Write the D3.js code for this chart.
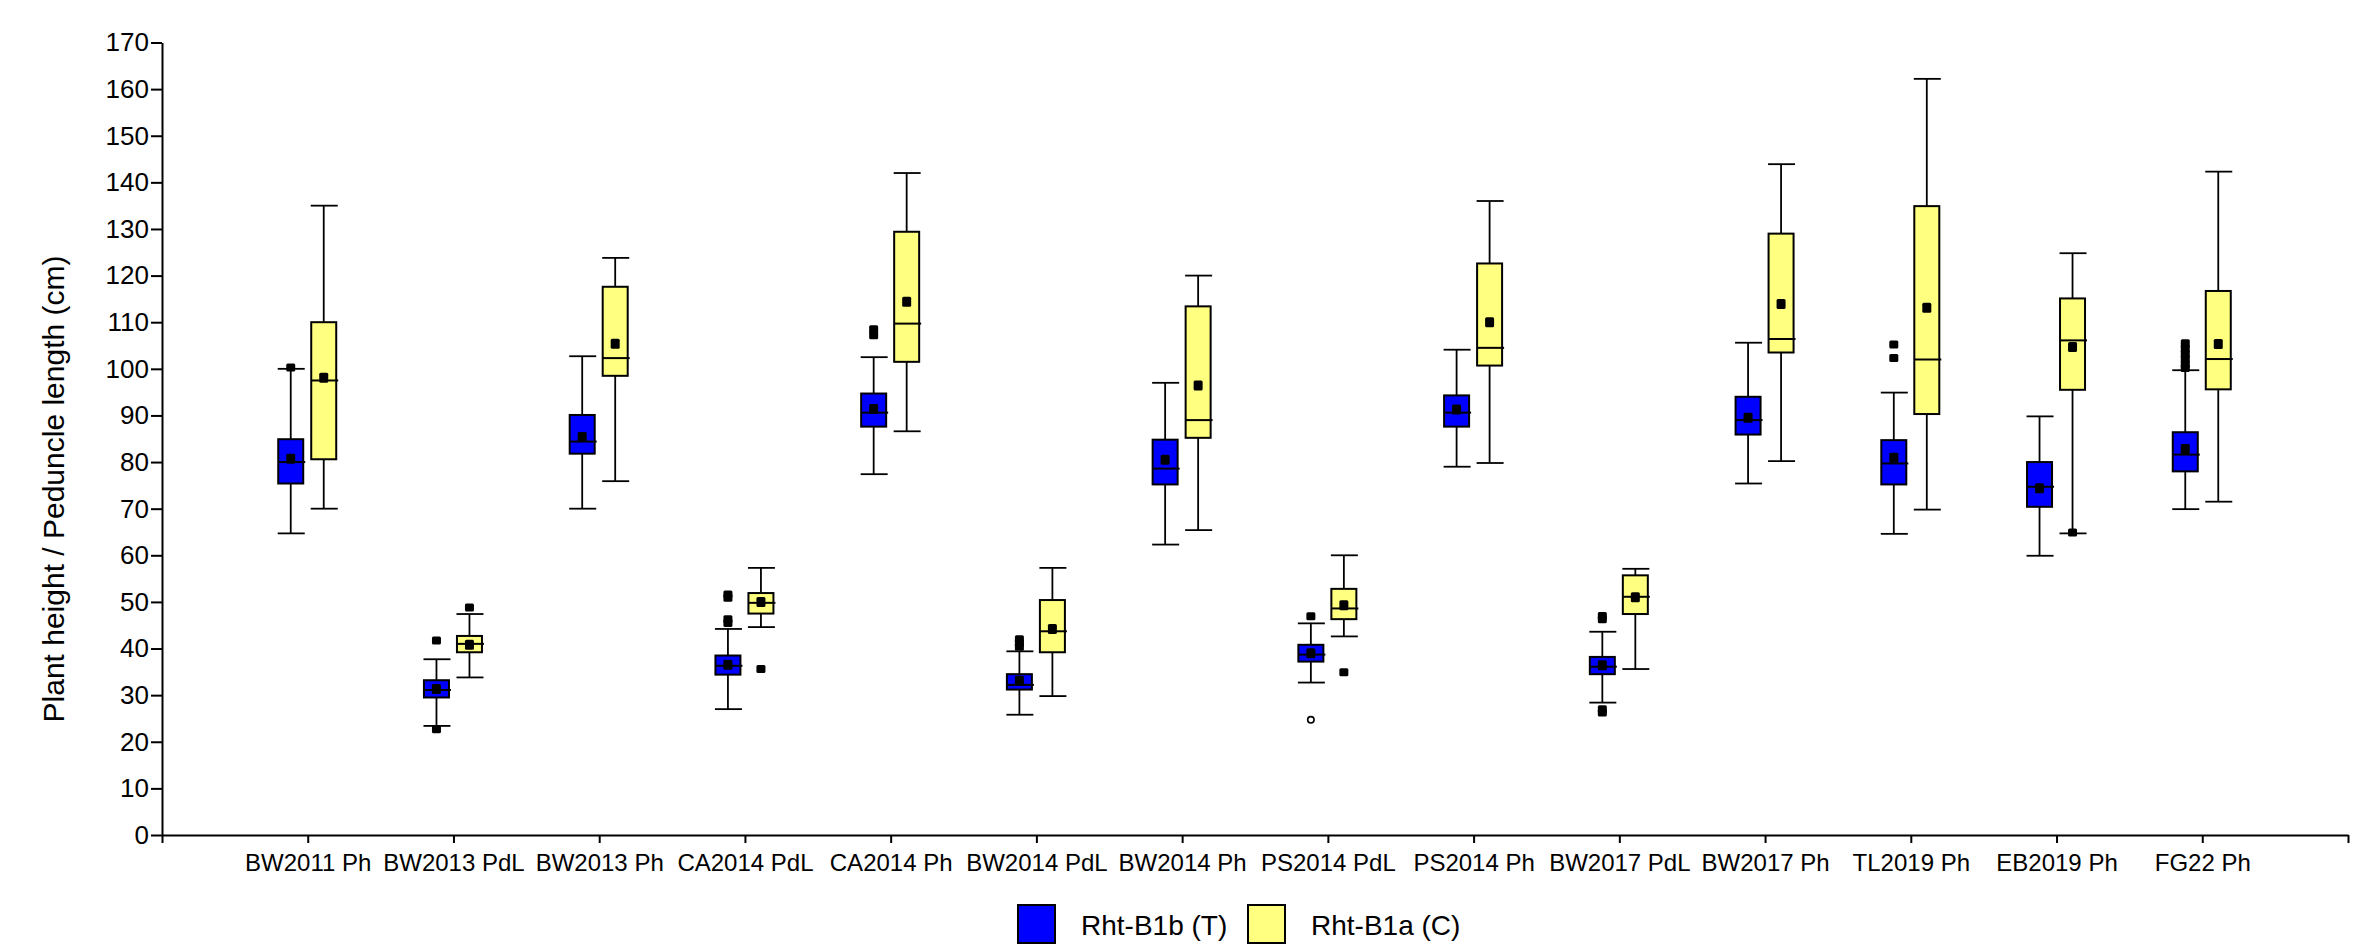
<!DOCTYPE html>
<html>
<head>
<meta charset="utf-8">
<script src="https://cdn.jsdelivr.net/npm/d3@7"></script>
<style>
    html, body { margin: 0; padding: 0; background: #ffffff; }
    svg { display: block; font-family: "Liberation Sans", Arial, sans-serif; }
</style>
</head>
<body>
<div id="chart"></div>
<script>
'use strict';

// categories on the x axis
const categories = ["BW2011 Ph", "BW2013 PdL", "BW2013 Ph", "CA2014 PdL", "CA2014 Ph", "BW2014 PdL", "BW2014 Ph",
    "PS2014 PdL", "PS2014 Ph", "BW2017 PdL", "BW2017 Ph", "TL2019 Ph", "EB2019 Ph", "FG22 Ph"];

// Rht-B1b (T)
const tLow  = [64.7, 23.4, 70.0, 27.0, 77.4, 25.8, 62.3, 32.7, 79.0, 28.4, 75.4, 64.6, 59.9, 69.9];
const tQ1   = [75.4, 29.5, 81.8, 34.4, 87.6, 31.2, 75.2, 37.2, 87.6, 34.5, 85.9, 75.2, 70.4, 78.0];
const tMed  = [80.0, 31.1, 84.4, 36.3, 90.6, 32.2, 78.6, 38.7, 90.6, 36.1, 89.0, 79.7, 74.7, 81.6];
const tQ3   = [84.9, 33.2, 90.1, 38.5, 94.7, 34.5, 84.8, 40.8, 94.3, 38.2, 94.0, 84.7, 80.0, 86.4];
const tHigh = [100.0, 37.7, 102.7, 44.2, 102.5, 39.4, 97.0, 45.4, 104.1, 43.6, 105.6, 94.9, 89.8, 99.7];
const tMean = [80.7, 31.3, 85.4, 36.5, 91.4, 33.1, 80.5, 39.0, 91.3, 36.4, 89.5, 80.9, 74.4, 82.8];
const tOutliers = [[100.3], [41.7, 22.7], [], [51.6, 50.9, 46.3, 45.5], [108.5, 107.2], [42.0, 41.2, 40.4], [],
    [46.9], [], [47.0, 46.3, 27.0, 26.3], [], [105.2, 102.3], [], [105.5, 104.3, 103.2, 102.1, 101.0, 100.2]];
const tOpen = [[], [], [], [], [], [], [], [24.7], [], [], [], [], [], []];

// Rht-B1a (C)
const cLow  = [70.0, 33.8, 75.9, 44.6, 86.6, 29.8, 65.4, 42.6, 79.8, 35.6, 80.2, 69.8, 64.7, 71.5];
const cQ1   = [80.6, 39.2, 98.5, 47.5, 101.5, 39.2, 85.2, 46.3, 100.7, 47.4, 103.5, 90.3, 95.5, 95.6];
const cMed  = [97.5, 41.0, 102.3, 49.8, 109.7, 43.7, 89.0, 48.6, 104.5, 51.1, 106.4, 102.0, 106.1, 102.1];
const cQ3   = [110.0, 42.7, 117.6, 51.9, 129.4, 50.4, 113.4, 52.8, 122.6, 55.7, 129.0, 134.9, 115.1, 116.7];
const cHigh = [135.0, 47.4, 123.8, 57.3, 142.0, 57.3, 120.0, 60.0, 136.0, 57.1, 143.9, 162.2, 124.8, 142.3];
const cMean = [98.1, 40.8, 105.4, 50.0, 114.4, 44.2, 96.4, 49.3, 110.0, 51.0, 113.9, 113.1, 104.7, 105.3];
const cOutliers = [[], [48.8], [], [35.6], [], [], [], [34.9], [], [], [], [], [64.9], []];
const cOpen = [[], [], [], [], [], [], [], [], [], [], [], [], [], []];

const yTicks = d3.range(0, 171, 10);
const seriesNames = ["Rht-B1b (T)", "Rht-B1a (C)"];

const width = 2375, height = 944;
const plot = {left: 162, right: 2348, top: 42.5, bottom: 835};

const series = [
    {name: seriesNames[0], fill: "#0000ff", shift: -17,
        low: tLow, q1: tQ1, med: tMed, q3: tQ3, high: tHigh, mean: tMean, out: tOutliers, open: tOpen},
    {name: seriesNames[1], fill: "#ffff80", shift: 16,
        low: cLow, q1: cQ1, med: cMed, q3: cQ3, high: cHigh, mean: cMean, out: cOutliers, open: cOpen}
];

const svg = d3.select("#chart").append("svg")
    .attr("width", width)
    .attr("height", height);

// x: one slot per category, plus one empty slot on each side
const x = d3.scaleLinear()
    .domain([0, categories.length + 1])
    .range([plot.left, plot.right]);

const y = d3.scaleLinear()
    .domain([0, 170])
    .range([plot.bottom, plot.top]);

// axes
const yAxis = d3.axisLeft(y).tickValues(yTicks).tickSize(11).tickPadding(2).tickSizeOuter(0);
const gy = svg.append("g").attr("transform", `translate(${plot.left},0)`).call(yAxis);
gy.select(".domain").attr("stroke-width", 2);
gy.selectAll(".tick line").attr("stroke-width", 2);
gy.selectAll(".tick text")
    .attr("font-size", 26)
    .attr("font-family", "Liberation Sans, Arial, sans-serif")
    .attr("fill", "#000");

const xAxis = d3.axisBottom(x)
    .tickValues(d3.range(0, categories.length + 2))
    .tickSize(8)
    .tickSizeOuter(0)
    .tickFormat(d => (d >= 1 && d <= categories.length) ? categories[d - 1] : "");
const gx = svg.append("g").attr("transform", `translate(0,${plot.bottom})`).call(xAxis);
gx.select(".domain").attr("stroke-width", 2);
gx.selectAll(".tick line").attr("stroke-width", 2);
gx.selectAll(".tick text")
    .attr("y", 36)
    .attr("dy", 0)
    .attr("font-size", 24)
    .attr("font-family", "Liberation Sans, Arial, sans-serif")
    .attr("fill", "#000");

// y title
svg.append("text")
    .attr("transform", `translate(64,489) rotate(-90)`)
    .attr("text-anchor", "middle")
    .attr("font-size", 30)
    .attr("fill", "#000")
    .text("Plant height / Peduncle length (cm)");

// box plots
const boxW = 25, capW = 26;
series.forEach((s) => {
    const g = svg.append("g");
    categories.forEach((c, i) => {
        const cx = x(i + 1) + s.shift;
        const lw = 1.8;

        // whiskers
        g.append("line").attr("x1", cx).attr("x2", cx).attr("y1", y(s.high[i])).attr("y2", y(s.low[i]))
            .attr("stroke", "#000").attr("stroke-width", lw);
        [s.high[i], s.low[i]].forEach(v => {
            g.append("line").attr("x1", cx - capW / 2).attr("x2", cx + capW / 2 + 1)
                .attr("y1", y(v)).attr("y2", y(v))
                .attr("stroke", "#000").attr("stroke-width", lw);
        });

        // box
        g.append("rect")
            .attr("x", cx - boxW / 2)
            .attr("y", y(s.q3[i]))
            .attr("width", boxW)
            .attr("height", y(s.q1[i]) - y(s.q3[i]))
            .attr("fill", s.fill)
            .attr("stroke", "#000")
            .attr("stroke-width", 2);

        // median
        g.append("line").attr("x1", cx - boxW / 2).attr("x2", cx + boxW / 2 + 2)
            .attr("y1", y(s.med[i])).attr("y2", y(s.med[i]))
            .attr("stroke", "#000").attr("stroke-width", 2);

        // mean
        g.append("rect").attr("x", cx - 4.5).attr("y", y(s.mean[i]) - 5)
            .attr("width", 9).attr("height", 10).attr("rx", 1.5).attr("fill", "#000");

        // outliers
        s.out[i].forEach(v => {
            g.append("rect").attr("x", cx - 4.5).attr("y", y(v) - 4)
                .attr("width", 9).attr("height", 8).attr("rx", 1.5).attr("fill", "#000");
        });
        s.open[i].forEach(v => {
            g.append("circle").attr("cx", cx).attr("cy", y(v)).attr("r", 3.2)
                .attr("fill", "#fff").attr("stroke", "#000").attr("stroke-width", 1.6);
        });
    });
});

// legend
const legend = svg.append("g");
const legendX = [1018, 1248];
series.forEach((s, i) => {
    legend.append("rect")
        .attr("x", legendX[i]).attr("y", 905)
        .attr("width", 37).attr("height", 38)
        .attr("fill", s.fill).attr("stroke", "#000").attr("stroke-width", 2);
    legend.append("text")
        .attr("x", legendX[i] + 63).attr("y", 935)
        .attr("font-size", 28)
        .attr("fill", "#000")
        .text(s.name);
});
</script>
</body>
</html>
